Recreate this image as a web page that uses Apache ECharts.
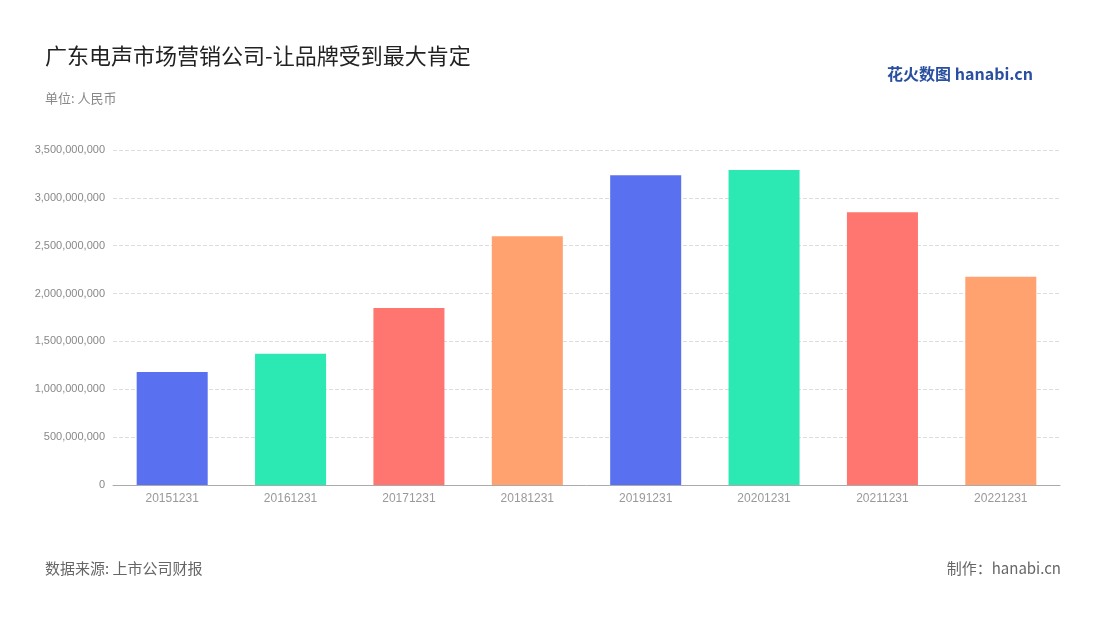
<!DOCTYPE html><html><head><meta charset="utf-8"><script src="https://cdn.jsdelivr.net/npm/echarts@6/dist/echarts.min.js"></script></head><body style="margin:0"><div id="c" style="width:1100px;height:620px"></div><script>
const categories=['20151231','20161231','20171231','20181231','20191231','20201231','20211231','20221231'];
const values=[1180000000,1370000000,1850000000,2600000000,3235000000,3290000000,2850000000,2175000000];
const colors=['#5970f0','#2ce8b2','#ff7670','#ffa270'];
const c=echarts.init(document.getElementById('c'));
c.setOption({
title:[{text:'广东电声市场营销公司-让品牌受到最大肯定',left:40,top:40,textStyle:{fontSize:22,fontWeight:'normal',color:'#222',fontFamily:'Noto Sans CJK SC'}},
{text:'单位: 人民币',left:40,top:87,textStyle:{fontSize:13,fontWeight:'normal',color:'#888',fontFamily:'Noto Sans CJK SC'}},
{text:'数据来源: 上市公司财报',left:40,top:556,textStyle:{fontSize:15,fontWeight:'normal',color:'#666',fontFamily:'Noto Sans CJK SC'}},
{text:'制作：hanabi.cn',right:34,top:556,textStyle:{fontSize:15,fontWeight:'normal',color:'#666',fontFamily:'Noto Sans CJK SC'}},
{text:'花火数图 hanabi.cn',right:62,top:61,textStyle:{fontSize:16,fontWeight:'bold',color:'#2a4fa0',fontFamily:'Noto Sans CJK SC'}}],
grid:{left:113,right:40,top:150,bottom:135},
xAxis:{type:'category',data:categories,axisTick:{show:false},axisLine:{lineStyle:{color:'#aaa'}},axisLabel:{color:'#999',fontSize:12}},
yAxis:{type:'value',min:0,max:3500000000,interval:500000000,axisLabel:{color:'#888',fontSize:11,formatter:v=>v.toLocaleString('en-US')},splitLine:{lineStyle:{type:'dashed',color:'#ddd'}}},
series:[{type:'bar',barWidth:'60%',data:values.map((v,i)=>({value:v,itemStyle:{color:colors[i%4]}}))}]
});
</script></body></html>
